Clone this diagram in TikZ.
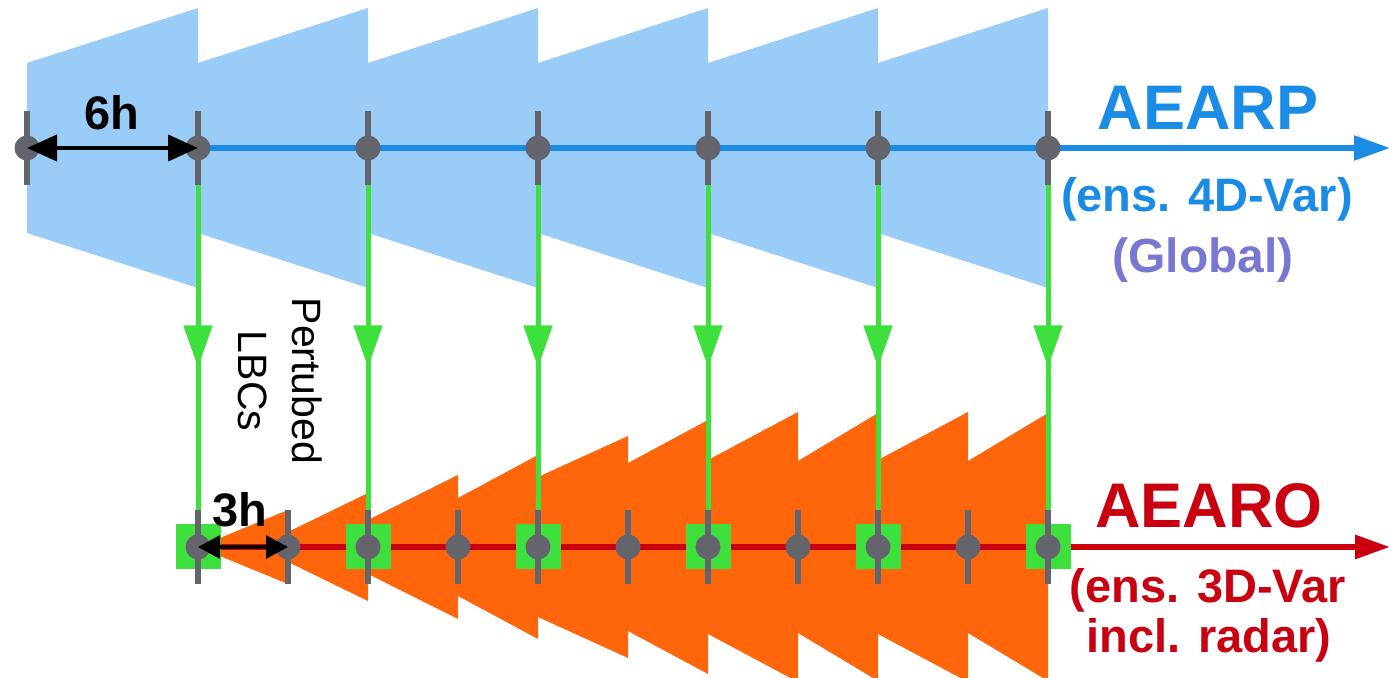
\documentclass[tikz,border=0pt]{standalone}
\usepackage{fontspec}
\setmainfont{Liberation Sans}
\usetikzlibrary{arrows.meta, decorations.markings}
\definecolor{skyfill}{HTML}{99CCF6}
\definecolor{aearpblue}{HTML}{1A8CE6}
\definecolor{aearored}{HTML}{C80010}
\definecolor{fcorange}{HTML}{FF650A}
\definecolor{lbcgreen}{HTML}{3EE03E}
\definecolor{dotgray}{HTML}{64646C}
\definecolor{globalpurple}{HTML}{7878D2}

\begin{document}
\begin{tikzpicture}[
      x=0.5pt, y=-0.5pt,
      tick/.style={draw=dotgray, line width=3pt},
      dot/.style={circle, fill=dotgray, minimum size=12.5pt, inner sep=0pt},
      anasq/.style={rectangle, fill=lbcgreen, minimum size=22.5pt, inner sep=0pt},
      lbc/.style={draw=lbcgreen, line width=2.5pt, postaction={decorate},
        decoration={markings, mark=at position 0.55 with {\arrow{Triangle[length=21pt, width=14pt]}}}},
      biglbl/.style={font=\bfseries\fontsize{31.5}{36}\selectfont, anchor=base},
      lbl/.style={font=\bfseries\fontsize{23.5}{28}\selectfont, anchor=base},
      span/.style={black, line width=2pt, {Triangle[length=15pt, width=13pt]}-{Triangle[length=15pt, width=13pt]}},
    ]
    \clip (0,0) rectangle (1399,678);

    % analysis times
    \foreach \x [count=\i from 0] in {27,198,368,538,708,878,1048}
      \coordinate (p\i) at (\x,148);
    \foreach \x [count=\i from 0] in {198,288,368,458,538,628,708,798,878,968,1048}
      \coordinate (q\i) at (\x,547);
    \coordinate (aearpend) at (1390,148);
    \coordinate (aearoend) at (1390,547);

    % global ensemble forecasts
    \foreach \a/\b in {27/198,198/368,368/538,538/708,708/878,878/1048}
      \fill[skyfill] (\a,63) -- (\b,8) -- (\b,288) -- (\a,233) -- cycle;

    % AROME ensemble forecasts
    \foreach \a/\b/\l/\r in {198/288/0/37, 288/368/15/54, 368/458/27/72, 458/538/49/92,
        538/628/70/111, 628/708/84/127, 708/798/87/135, 798/878/86/134,
        878/968/87/135, 968/1048/86/134}
      \fill[fcorange] (\a,547-\l) -- (\b,547-\r) -- (\b,547+\r) -- (\a,547+\l) -- cycle;

    % perturbed LBCs
    \foreach \i/\j in {1/0,2/2,3/4,4/6,5/8,6/10}
      \draw[lbc] (p\i) -- (q\j);

    % time axes
    \draw[aearpblue, line width=2.75pt, -{Triangle[length=18pt, width=12pt]}] (p1) -- (aearpend);
    \draw[aearored, line width=3pt, -{Triangle[length=17.5pt, width=11.5pt]}] (q0) -- (aearoend);

    \foreach \j in {0,2,...,10}
      \node[anasq] (sq\j) at (q\j) {};
    \foreach \i in {0,...,6}
      \draw[tick] (p\i) ++(0,-37) -- ++(0,74);
    \foreach \j in {0,...,10}
      \draw[tick] (q\j) ++(0,-37) -- ++(0,74);
    \foreach \i in {0,...,6}
      \node[dot] (dp\i) at (p\i) {};
    \foreach \j in {0,...,10}
      \node[dot] (dq\j) at (q\j) {};

    % cycling intervals
    \draw[span] (p0) -- (p1);
    \node[lbl] (sixh) at (112,130) {6h};
    \draw[span, line width=1.75pt, {Triangle[length=11pt, width=11.5pt]}-{Triangle[length=11pt, width=11.5pt]}] (q0) -- (q1);
    \node[lbl] (threeh) at (240,527) {3h};

    \node[rotate=-90, align=center, font=\fontsize{20.5}{27}\selectfont] (lbctext) at (280,381) {Pertubed\\LBCs};

    % system labels
    \node[biglbl, text=aearpblue] (aearp) at (1208,130) {AEARP};
    \node[lbl, text=aearpblue] (aearpsub) at (1207,212) {(ens. 4D-Var)};
    \node[lbl, text=globalpurple, font=\bfseries\fontsize{24}{28}\selectfont] (global) at (1203,273) {(Global)};
    \node[biglbl, text=aearored] (aearo) at (1209,528) {AEARO};
    \node[lbl, text=aearored] (aearosub) at (1208,603) {(ens. 3D-Var};
    \node[lbl, text=aearored] (aearoradar) at (1209,653) {incl. radar)};
  \end{tikzpicture}
\end{document}
